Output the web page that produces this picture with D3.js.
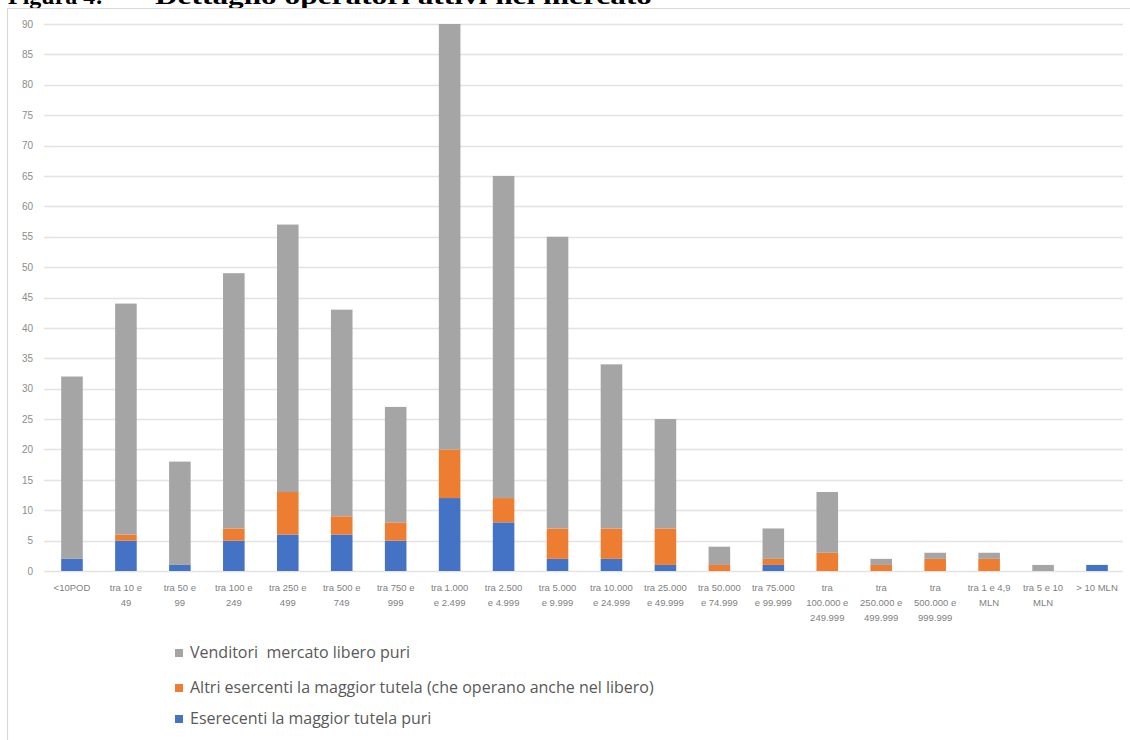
<!DOCTYPE html>
<html><head><meta charset="utf-8">
<script src="https://cdn.jsdelivr.net/npm/d3@7"></script>
<style>body{margin:0;background:#fff;}svg{display:block;}</style>
</head><body>
<svg id="c" width="1130" height="740"></svg>
<script>
const categories = ["<10POD","tra 10 e|49","tra 50 e|99","tra 100 e|249","tra 250 e|499","tra 500 e|749","tra 750 e|999","tra 1.000|e 2.499","tra 2.500|e 4.999","tra 5.000|e 9.999","tra 10.000|e 24.999","tra 25.000|e 49.999","tra 50.000|e 74.999","tra 75.000|e 99.999","tra|100.000 e|249.999","tra|250.000 e|499.999","tra|500.000 e|999.999","tra 1 e 4,9|MLN","tra 5 e 10|MLN","> 10 MLN"];
const eserecentiPuri = [2,5,1,5,6,6,5,12,8,2,2,1,0,1,0,0,0,0,0,1];
const altriEsercenti = [0,1,0,2,7,3,3,8,4,5,5,6,1,1,3,1,2,2,0,0];
const venditoriLibero = [30,38,17,42,44,34,19,70,53,48,27,18,3,5,10,1,1,1,1,0];
const yTicks = [0,5,10,15,20,25,30,35,40,45,50,55,60,65,70,75,80,85,90];
const seriesNames = ["Eserecenti la maggior tutela puri","Altri esercenti la maggior tutela (che operano anche nel libero)","Venditori  mercato libero puri"];
const colors = ["#4472c4","#ed7d31","#a5a5a5"];

const svg = d3.select("#c");
// title (cut at top, as in the reference)
svg.append("text").attr("x",8).attr("y",4).attr("font-family","Liberation Serif").attr("font-weight","bold").attr("font-size",24).attr("fill","#000").text("Figura 4:");
svg.append("text").attr("x",155).attr("y",4).attr("font-family","Liberation Serif").attr("font-weight","bold").attr("font-size",24).attr("fill","#000").attr("textLength",497).attr("lengthAdjust","spacingAndGlyphs").text("Dettaglio operatori attivi nel mercato");
// frame
svg.append("path").attr("d","M7.5,745 V8.5 H1135").attr("fill","none").attr("stroke","#d9d9d9").attr("stroke-width",1.2);

const x = d3.scaleBand().domain(d3.range(categories.length)).range([45,1124]).paddingInner(0.6).paddingOuter(0.3);
const y = d3.scaleLinear().domain([0,90]).range([571,24]);

// grid
svg.append("g").selectAll("line").data(yTicks).join("line")
  .attr("x1",44).attr("x2",1123).attr("y1",d=>Math.round(y(d))+0.5).attr("y2",d=>Math.round(y(d))+0.5)
  .attr("stroke","#e3e3e3").attr("stroke-width",1.3);
// y axis labels
const yAxis = d3.axisLeft(y).tickValues(yTicks).tickSize(0).tickPadding(0);
const ya = svg.append("g").attr("transform","translate(33,0)").call(yAxis);
ya.select(".domain").remove();
ya.selectAll("text").attr("font-family","Liberation Sans").attr("font-size",10).attr("fill","#8c8c8c");

// stacks
const data = categories.map((c,i)=>({i, a:eserecentiPuri[i], b:altriEsercenti[i], c:venditoriLibero[i]}));
const stack = d3.stack().keys(["a","b","c"])(data);
svg.append("g").selectAll("g").data(stack).join("g").attr("fill",(d,i)=>colors[i])
  .selectAll("rect").data(d=>d).join("rect")
  .attr("x",d=>x(d.data.i)).attr("width",x.bandwidth())
  .attr("y",d=>y(d[1])).attr("height",d=>y(d[0])-y(d[1]));

// x labels
const xa = svg.append("g");
categories.forEach((c,i)=>{
  const t = xa.append("text").attr("x",x(i)+x.bandwidth()/2).attr("y",591).attr("text-anchor","middle")
    .attr("font-family","Liberation Sans").attr("font-size",9.5).attr("fill","#7f7f7f");
  c.split("|").forEach((l,j)=>t.append("tspan").attr("x",x(i)+x.bandwidth()/2).attr("dy",j?15:0).text(l));
});

// legend
const legOrder = [2,1,0];
const legY = [653,688,719];
legOrder.forEach((s,k)=>{
  svg.append("rect").attr("x",175).attr("y",legY[k]-4).attr("width",8).attr("height",8).attr("fill",colors[s]);
  svg.append("text").attr("x",190).attr("y",legY[k]+5).attr("font-family","Open Sans").attr("font-size",16)
    .attr("fill","#595959").style("white-space","pre").text(seriesNames[s]);
});
</script>
</body></html>
